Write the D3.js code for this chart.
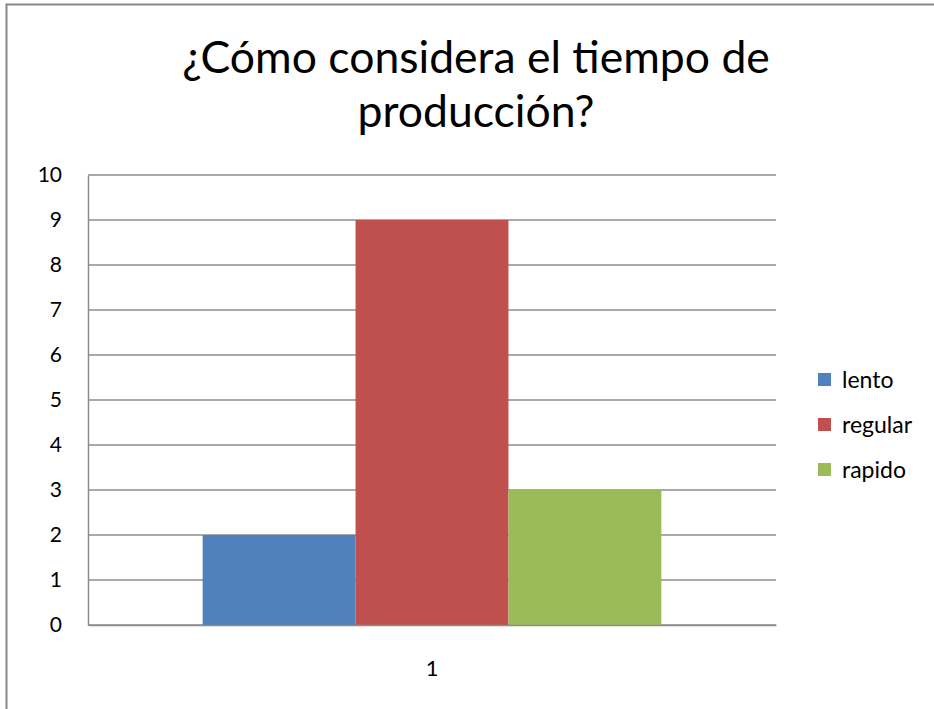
<!DOCTYPE html>
<html>
<head>
<meta charset="utf-8">
<script src="https://d3js.org/d3.v7.min.js"></script>
<style>
  body { margin: 0; background: #fff; }
  text { font-family: Lato, "Open Sans", sans-serif; fill: #000; }
</style>
</head>
<body>
<div id="chart"></div>
<script>
var width = 934, height = 709;
var categories = ["1"];
var seriesNames = ["lento", "regular", "rapido"];
var seriesValues = [2, 9, 3];
var seriesColors = ["#4f81bd", "#c0504d", "#9bbb59"];
var yTicks = [0, 1, 2, 3, 4, 5, 6, 7, 8, 9, 10];
var titleLines = ["¿Cómo considera el tiempo de", "producción?"];

var plot = {left: 88, right: 776, top: 175, bottom: 625};

var svg = d3.select("#chart")
  .append("svg")
    .attr("width", width)
    .attr("height", height);

// chart frame (only top and left visible in the picture)
svg.append("path")
  .attr("d", "M6.5,720 V4.5 H940")
  .attr("fill", "none")
  .attr("stroke", "#878787")
  .attr("stroke-width", 2);

// title
svg.append("g").selectAll("text")
  .data(titleLines)
  .enter()
  .append("text")
    .attr("x", 476)
    .attr("y", function(d, i) { return 73 + i * 54; })
    .attr("text-anchor", "middle")
    .style("font-size", "44.5px")
    .text(function(d) { return d; });

// scales
var x = d3.scaleBand()
  .domain(categories)
  .range([plot.left, plot.right]);

var xs = d3.scaleBand()
  .domain(seriesNames)
  .range([0, x.bandwidth()])
  .paddingOuter(0.75);

var y = d3.scaleLinear()
  .domain([0, 10])
  .range([plot.bottom, plot.top]);

// gridlines
svg.append("g")
  .selectAll("line")
  .data(yTicks)
  .enter()
  .append("line")
    .attr("x1", plot.left)
    .attr("x2", plot.right)
    .attr("y1", function(d) { return y(d); })
    .attr("y2", function(d) { return y(d); })
    .attr("stroke", "#8c8c8c")
    .attr("stroke-width", 1.5);

// bars
var data = seriesNames.map(function(s, i) {
  return {cat: categories[0], name: s, value: seriesValues[i], color: seriesColors[i]};
});

svg.append("g")
  .selectAll("rect")
  .data(data)
  .enter()
  .append("rect")
    .attr("x", function(d) { return x(d.cat) + xs(d.name); })
    .attr("y", function(d) { return y(d.value); })
    .attr("width", xs.bandwidth())
    .attr("height", function(d) { return y(0) - y(d.value); })
    .attr("fill", function(d) { return d.color; });

// y axis
var yAxis = svg.append("g")
  .attr("transform", "translate(" + plot.left + ",0)")
  .call(d3.axisLeft(y).tickValues(yTicks).tickSize(0).tickPadding(26));
yAxis.select(".domain").attr("stroke", "#8c8c8c").attr("stroke-width", 1.5);
yAxis.selectAll("text")
  .style("font-size", "21px")
  .style("font-family", "Lato, sans-serif");

// x axis
var xAxis = svg.append("g")
  .attr("transform", "translate(0," + plot.bottom + ")")
  .call(d3.axisBottom(x).tickSize(0).tickPadding(35));
xAxis.select(".domain").attr("stroke", "#8c8c8c").attr("stroke-width", 1.5);
xAxis.selectAll("text")
  .style("font-size", "22px")
  .style("font-family", "Lato, sans-serif");

// legend
var legend = svg.append("g")
  .selectAll("g")
  .data(data)
  .enter()
  .append("g")
    .attr("transform", function(d, i) { return "translate(818," + (373 + i * 45) + ")"; });

legend.append("rect")
  .attr("width", 13)
  .attr("height", 13)
  .attr("fill", function(d) { return d.color; });

legend.append("text")
  .attr("x", 24)
  .attr("y", 15)
  .style("font-size", "23px")
  .text(function(d) { return d.name; });
</script>
</body>
</html>
